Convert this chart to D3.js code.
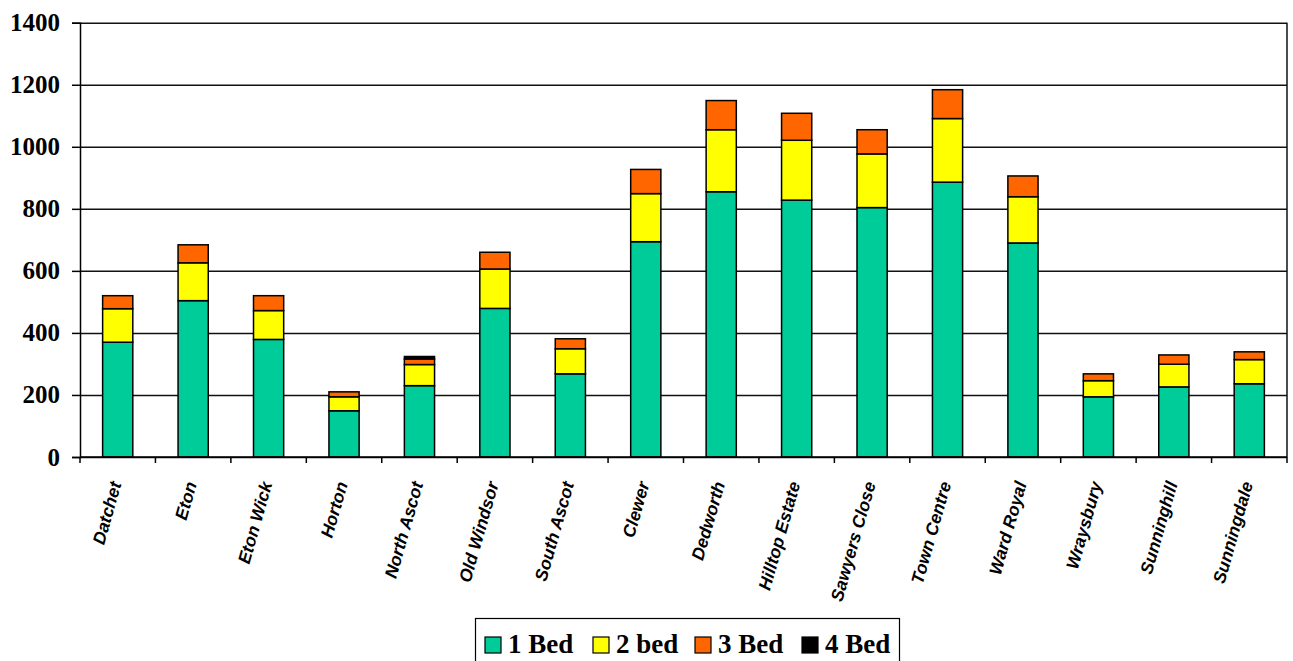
<!DOCTYPE html>
<html>
<head>
<meta charset="utf-8">
<script src="https://cdn.jsdelivr.net/npm/d3@7"></script>
<style>
  html, body { margin: 0; padding: 0; background: #fff; }
  svg { display: block; }
</style>
</head>
<body>
<svg id="chart" width="1293" height="661"></svg>
<script>
// Housing stock by area and bedroom count
const areas = ["Datchet", "Eton", "Eton Wick", "Horton", "North Ascot", "Old Windsor",
  "South Ascot", "Clewer", "Dedworth", "Hilltop Estate", "Sawyers Close", "Town Centre",
  "Ward Royal", "Wraysbury", "Sunninghill", "Sunningdale"];
const seriesNames = ["1 Bed", "2 bed", "3 Bed", "4 Bed"];
const bed1 = [370, 504, 379, 149, 230, 479, 268, 694, 855, 828, 804, 886, 690, 194, 226, 236];
const bed2 = [108, 122, 93, 45, 68, 127, 81, 155, 200, 193, 173, 205, 149, 52, 73, 78];
const bed3 = [42, 58, 48, 16, 18, 54, 32, 78, 94, 87, 78, 93, 67, 22, 30, 25];
const bed4 = [0, 0, 0, 0, 8, 0, 0, 0, 0, 0, 0, 0, 0, 0, 0, 0];
const yTicks = [0, 200, 400, 600, 800, 1000, 1200, 1400];
const colors = ["#00CC99", "#FFFF00", "#FF6600", "#000000"];

const svg = d3.select("#chart");
const plotLeft = 80, plotRight = 1287, plotTop = 22.7, plotBottom = 457;

const rows = areas.map((a, i) => ({
  area: a, "1 Bed": bed1[i], "2 bed": bed2[i], "3 Bed": bed3[i], "4 Bed": bed4[i]
}));
const stacked = d3.stack().keys(seriesNames)(rows);

const y = d3.scaleLinear().domain([0, 1400]).range([plotBottom, plotTop]);
const x = d3.scaleBand().domain(areas).range([plotLeft, plotRight]).paddingInner(0.6).paddingOuter(0.3);
const xCat = d3.scaleBand().domain(areas).range([plotLeft, plotRight]).padding(0);

// horizontal gridlines
svg.append("g")
  .attr("transform", `translate(${plotLeft},0)`)
  .call(d3.axisLeft(y).tickValues(yTicks).tickSize(-(plotRight - plotLeft)).tickFormat(""))
  .call(g => g.select(".domain").remove())
  .call(g => g.selectAll("line").attr("stroke", "#111").attr("stroke-width", 1.5));

// right border of the plot area
svg.append("line")
  .attr("x1", plotRight).attr("x2", plotRight).attr("y1", y(1400)).attr("y2", y(0))
  .attr("stroke", "#111").attr("stroke-width", 1.5);

// stacked bars
svg.append("g").selectAll("g")
  .data(stacked)
  .join("g")
  .attr("fill", (d, i) => colors[i])
  .selectAll("rect")
  .data(d => d.filter(s => s[1] - s[0] > 0))
  .join("rect")
  .attr("x", d => x(d.data.area))
  .attr("width", x.bandwidth())
  .attr("y", d => y(d[1]))
  .attr("height", d => y(d[0]) - y(d[1]))
  .attr("stroke", "#000")
  .attr("stroke-width", 1.5);

// y axis
svg.append("g")
  .attr("transform", `translate(${plotLeft},0)`)
  .call(d3.axisLeft(y).tickValues(yTicks).tickFormat(d3.format("d")).tickSize(8).tickPadding(12))
  .call(g => g.select(".domain").attr("stroke", "#000").attr("stroke-width", 1.5))
  .call(g => g.selectAll("line").attr("stroke", "#000").attr("stroke-width", 1.5))
  .call(g => g.selectAll("text")
    .attr("font-family", "'Liberation Serif', 'Times New Roman', serif")
    .attr("font-weight", "bold")
    .attr("font-size", 25)
    .attr("fill", "#000"));

// x axis line with ticks at category boundaries
const xAxis = svg.append("g");
xAxis.append("line")
  .attr("x1", plotLeft).attr("x2", plotRight).attr("y1", plotBottom).attr("y2", plotBottom)
  .attr("stroke", "#000").attr("stroke-width", 1.5);
const boundaries = areas.map(a => xCat(a)).concat([plotRight]);
xAxis.selectAll("line.tick")
  .data(boundaries)
  .join("line")
  .attr("class", "tick")
  .attr("x1", d => d).attr("x2", d => d)
  .attr("y1", plotBottom).attr("y2", plotBottom + 6)
  .attr("stroke", "#000").attr("stroke-width", 1.5);

// rotated category labels
xAxis.selectAll("text")
  .data(areas)
  .join("text")
  .attr("transform", d => `translate(${xCat(d) + xCat.bandwidth() / 2 - 2},${plotBottom + 25}) rotate(-74)`)
  .attr("text-anchor", "end")
  .attr("dy", "0.35em")
  .attr("font-family", "'Liberation Sans', Arial, sans-serif")
  .attr("font-weight", "bold")
  .attr("font-style", "italic")
  .attr("font-size", 17.5)
  .attr("fill", "#000")
  .text(d => d);

// legend
const legend = svg.append("g");
legend.append("rect")
  .attr("x", 475.5).attr("y", 618.5).attr("width", 424).attr("height", 50)
  .attr("fill", "#fff").attr("stroke", "#000").attr("stroke-width", 1.2);
const legendX = [485, 593, 695, 802];
const item = legend.selectAll("g.item")
  .data(seriesNames)
  .join("g")
  .attr("class", "item")
  .attr("transform", (d, i) => `translate(${legendX[i]},637)`);
item.append("rect")
  .attr("width", 16).attr("height", 16)
  .attr("fill", (d, i) => colors[i])
  .attr("stroke", "#000").attr("stroke-width", 1.2);
item.append("text")
  .attr("x", 23).attr("y", 16)
  .attr("font-family", "'Liberation Serif', 'Times New Roman', serif")
  .attr("font-weight", "bold")
  .attr("font-size", 27)
  .attr("fill", "#000")
  .text(d => d);
</script>
</body>
</html>
